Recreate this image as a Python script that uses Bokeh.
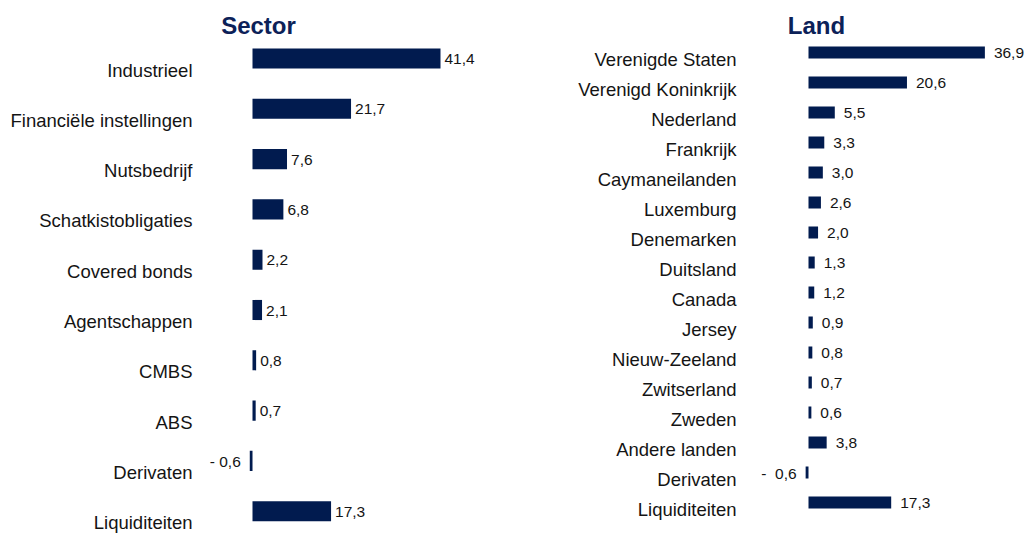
from bokeh.plotting import figure
from bokeh.models import ColumnDataSource, Range1d
from bokeh.layouts import row
from bokeh.embed import file_html
from bokeh.resources import INLINE
from bokeh.core.properties import value

# ---------------- data ----------------
sector_title = "Sector"
sector_categories = ["Industrieel", "Financiële instellingen", "Nutsbedrijf",
                     "Schatkistobligaties", "Covered bonds", "Agentschappen",
                     "CMBS", "ABS", "Derivaten", "Liquiditeiten"]
sector_values = [41.4, 21.7, 7.6, 6.8, 2.2, 2.1, 0.8, 0.7, -0.6, 17.3]

land_title = "Land"
land_categories = ["Verenigde Staten", "Verenigd Koninkrijk", "Nederland",
                   "Frankrijk", "Caymaneilanden", "Luxemburg", "Denemarken",
                   "Duitsland", "Canada", "Jersey", "Nieuw-Zeeland",
                   "Zwitserland", "Zweden", "Andere landen", "Derivaten",
                   "Liquiditeiten"]
land_values = [36.9, 20.6, 5.5, 3.3, 3.0, 2.6, 2.0, 1.3, 1.2, 0.9, 0.8,
               0.7, 0.6, 3.8, -0.6, 17.3]

# ---------------- style ----------------
BAR = "#011b4f"
TITLE = "#0c2158"
TXT = "#141414"
FONT = "Liberation Sans"
H = 533


def fmt(v, neg_sep):
    s = f"{abs(v):.1f}".replace(".", ",")
    return s if v >= 0 else "-" + neg_sep + s


def panel(title, cats, vals, width, zero_px, px_per_unit, top_px, step_px,
          bar_h, label_dx, label_dy, pos_gap, neg_gap, neg_sep,
          title_dx, title_dy):
    n = len(cats)
    x0 = -zero_px / px_per_unit
    x1 = (width - zero_px) / px_per_unit
    y_top = -top_px / step_px
    y_bot = (H - top_px) / step_px
    p = figure(width=width, height=H, output_backend="svg",
               toolbar_location=None, min_border=0,
               x_range=Range1d(x0, x1), y_range=Range1d(y_bot, y_top),
               x_axis_location=None, y_axis_location=None,
               outline_line_color=None, background_fill_color="white",
               border_fill_color="white")
    p.xgrid.visible = False
    p.ygrid.visible = False

    idx = list(range(n))
    labels = [fmt(v, neg_sep) for v in vals]
    pos = [v >= 0 for v in vals]
    src = ColumnDataSource(dict(y=idx, v=vals, cat=cats, lab=labels,
                                zero=[0] * n))
    p.hbar(y="y", left="zero", right="v", height=bar_h, source=src,
           fill_color=BAR, line_color=None)

    # category labels
    p.text(x="zero", y="y", text="cat", source=src, x_offset=label_dx,
           y_offset=label_dy, text_align="right", text_baseline="middle",
           text_font=value(FONT), text_font_size="18.5px", text_color=TXT)

    # value labels
    ps = ColumnDataSource(dict(
        y=[i for i in idx if pos[i]], v=[vals[i] for i in idx if pos[i]],
        lab=[labels[i] for i in idx if pos[i]]))
    ns = ColumnDataSource(dict(
        y=[i for i in idx if not pos[i]], v=[vals[i] for i in idx if not pos[i]],
        lab=[labels[i] for i in idx if not pos[i]]))
    p.text(x="v", y="y", text="lab", source=ps, x_offset=pos_gap,
           y_offset=0.5, text_align="left", text_baseline="middle",
           text_font=value(FONT), text_font_size="15.5px", text_color=TXT)
    p.text(x="v", y="y", text="lab", source=ns, x_offset=neg_gap,
           y_offset=0.5, text_align="right", text_baseline="middle",
           text_font=value(FONT), text_font_size="15.5px", text_color=TXT)

    # title
    p.text(x=[0], y=[0], text=[title], x_offset=title_dx, y_offset=title_dy,
           text_align="center", text_baseline="middle",
           text_font=value(FONT), text_font_size="24px",
           text_font_style="bold", text_color=TITLE)
    return p


left = panel(sector_title, sector_categories, sector_values, width=530,
             zero_px=252, px_per_unit=4.541, top_px=58, step_px=50.3,
             bar_h=0.4, label_dx=-60, label_dy=11.5, pos_gap=4, neg_gap=-9,
             neg_sep=" ", title_dx=6, title_dy=-33)
right = panel(land_title, land_categories, land_values, width=494,
              zero_px=278, px_per_unit=4.78, top_px=52, step_px=30,
              bar_h=0.4, label_dx=-72, label_dy=7.2, pos_gap=9, neg_gap=-9,
              neg_sep="\u00a0\u00a0", title_dx=8, title_dy=-27)

layout = row(left, right)
open("out.html", "w").write(file_html(layout, INLINE))
